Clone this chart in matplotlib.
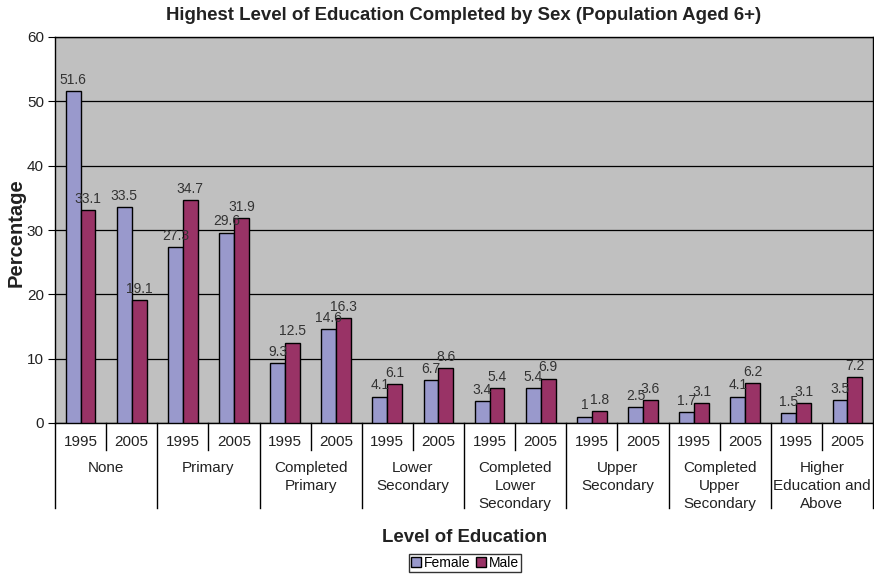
import matplotlib.pyplot as plt
import matplotlib.transforms as mtransforms
import numpy as np

groups = ["None", "Primary", "Completed\nPrimary", "Lower\nSecondary",
          "Completed\nLower\nSecondary", "Upper\nSecondary",
          "Completed\nUpper\nSecondary", "Higher\nEducation and\nAbove"]
years = ["1995", "2005"]
female = [51.6, 33.5, 27.3, 29.6, 9.3, 14.6, 4.1, 6.7,
          3.4, 5.4, 1, 2.5, 1.7, 4.1, 1.5, 3.5]
male = [33.1, 19.1, 34.7, 31.9, 12.5, 16.3, 6.1, 8.6,
        5.4, 6.9, 1.8, 3.6, 3.1, 6.2, 3.1, 7.2]

plt.rcParams['font.family'] = ['Liberation Sans', 'DejaVu Sans']

fig = plt.figure(figsize=(8.74, 5.75), dpi=100)
ax = fig.add_axes([55 / 874, 1 - 423 / 575, 818 / 874, 386 / 575])
ax.set_facecolor('#C0C0C0')

x = np.arange(len(female))
w = 0.29
bf = ax.bar(x - w / 2, female, w, color='#9999CC', edgecolor='black', lw=1, label='Female', zorder=3)
bm = ax.bar(x + w / 2, male, w, color='#993366', edgecolor='black', lw=1, label='Male', zorder=3)

for bars in (bf, bm):
    for b in bars:
        v = b.get_height()
        ax.annotate(f"{v:g}", (b.get_x() + b.get_width() / 2, v),
                    xytext=(0, 3), textcoords='offset points',
                    ha='center', va='bottom', fontsize=10, color='#333333', zorder=4)

ax.set_xlim(-0.5, len(female) - 0.5)
ax.set_ylim(0, 60)
ax.set_yticks(range(0, 61, 10))
ax.tick_params(axis='y', labelsize=11, length=5, direction='out', colors='black', pad=3)
ax.tick_params(axis='y', labelcolor='#222222')
ax.set_xticks([])
ax.yaxis.grid(True, color='black', lw=0.9, zorder=1)
for s in ax.spines.values():
    s.set_color('black')
    s.set_linewidth(1)

# two-level category axis drawn below the plot
tr = mtransforms.blended_transform_factory(ax.transData, ax.transAxes)
for i in range(len(female)):
    ax.text(i, -0.05, years[i % 2], transform=tr, ha='center', va='center',
            fontsize=11, color='#222222')
for i in range(len(female) + 1):
    edge = i - 0.5
    low = -0.220 if i % 2 == 0 else -0.070
    ax.plot([edge, edge], [0, low], transform=tr, color='black', lw=1, clip_on=False)
for g, name in enumerate(groups):
    ax.text(2 * g + 0.5, -0.098, name, transform=tr, ha='center', va='top',
            fontsize=11, linespacing=1.37, color='#222222')

fig.text(464 / 874, 1 - 15 / 575, 'Highest Level of Education Completed by Sex (Population Aged 6+)',
         ha='center', va='center', fontsize=13.4, fontweight='bold', color='#222222')
fig.text(16 / 874, 1 - 233 / 575, 'Percentage', rotation=90, ha='center', va='center',
         fontsize=14.5, fontweight='bold', color='#222222')
fig.text(465 / 874, 1 - 537 / 575, 'Level of Education', ha='center', va='center',
         fontsize=13.4, fontweight='bold', color='#222222')

fig.legend(handles=[bf, bm], loc='center', bbox_to_anchor=(465 / 874, 1 - 563 / 575),
           ncol=2, fontsize=10, frameon=True, fancybox=False, edgecolor='black',
           handlelength=0.7, handleheight=0.7, handletextpad=0.2, columnspacing=0.4,
           borderpad=0.15, borderaxespad=0)

fig.savefig('out.png', dpi=100)
